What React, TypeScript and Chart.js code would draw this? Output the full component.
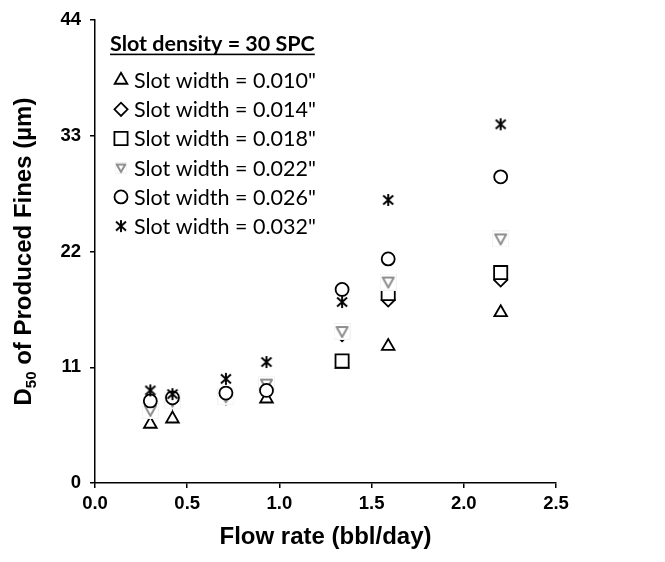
import React, { useEffect, useRef } from 'react';
import { Chart, registerables } from 'chart.js';
import { drawPoint } from 'chart.js/helpers';

Chart.register(...registerables);

const flowRates = [0.3, 0.42, 0.71, 0.93, 1.34, 1.59, 2.2];
const d50Width010 = [5.6, 6.1, 8.0, 8.0, 11.3, 13.0, 16.2];
const d50Width014 = [7.0, 7.7, 8.1, 9.2, 14.1, 17.4, 19.3];
const d50Width018 = [6.9, 7.8, 8.2, 9.3, 11.6, 18.0, 20.0];
const d50Width022 = [6.9, 7.8, 8.2, 9.4, 14.4, 19.1, 23.2];
const d50Width026 = [7.8, 8.1, 8.55, 8.8, 18.4, 21.3, 29.1];
const d50Width032 = [8.8, 8.45, 9.9, 11.5, 17.2, 26.9, 34.1];

const seriesLabels = [
  'Slot width = 0.010"',
  'Slot width = 0.014"',
  'Slot width = 0.018"',
  'Slot width = 0.022"',
  'Slot width = 0.026"',
  'Slot width = 0.032"',
];
const legendTitle = 'Slot density = 30 SPC';
const xTicks = [0, 0.5, 1.0, 1.5, 2.0, 2.5];
const yTicks = [0, 11, 22, 33, 44];
const xTitle = 'Flow rate (bbl/day)';
const yTitleMain = 'D';
const yTitleSub = '50';
const yTitleRest = ' of Produced Fines (µm)';

function makeAsterisk(): HTMLCanvasElement {
  const c = document.createElement('canvas');
  c.width = 14;
  c.height = 14;
  const g = c.getContext('2d')!;
  g.strokeStyle = '#000';
  g.lineWidth = 1.9;
  g.beginPath();
  g.moveTo(2, 2.5); g.lineTo(12, 11.5);
  g.moveTo(12, 2.5); g.lineTo(2, 11.5);
  g.moveTo(7, 1); g.lineTo(7, 13);
  g.stroke();
  return c;
}

function makeDownTriangle(size: number, pad: number): HTMLCanvasElement {
  const c = document.createElement('canvas');
  c.width = size;
  c.height = size;
  const g = c.getContext('2d')!;
  g.fillStyle = '#f2f2f2';
  g.fillRect(0, 0, size, size);
  g.fillStyle = '#fff';
  g.fillRect(1, 1, size - 2, size - 2);
  const m = pad;
  g.strokeStyle = '#8e8e8e';
  g.lineWidth = 2;
  g.lineJoin = 'round';
  g.beginPath();
  g.moveTo(m, m + 1);
  g.lineTo(size - m, m + 1);
  g.lineTo(size / 2, size - m);
  g.closePath();
  g.stroke();
  return c;
}

const yTitlePlugin = {
  id: 'yTitleSub',
  afterDraw(chart: any) {
    const ctx = chart.ctx;
    const area = chart.chartArea;
    ctx.save();
    const big = 'bold 24px "Liberation Sans", Arial, sans-serif';
    const small = 'bold 15px "Liberation Sans", Arial, sans-serif';
    ctx.font = big;
    const w1 = ctx.measureText(yTitleMain).width;
    const w3 = ctx.measureText(yTitleRest).width;
    ctx.font = small;
    const w2 = ctx.measureText(yTitleSub).width;
    const total = w1 + w2 + w3;
    ctx.translate(22, (area.top + area.bottom) / 2);
    ctx.rotate(-Math.PI / 2);
    ctx.fillStyle = '#000';
    ctx.textBaseline = 'alphabetic';
    ctx.textAlign = 'left';
    let x = -total / 2;
    const base = 9;
    ctx.font = big;
    ctx.fillText(yTitleMain, x, base);
    x += w1;
    ctx.font = small;
    ctx.fillText(yTitleSub, x, base + 5);
    x += w2;
    ctx.font = big;
    ctx.fillText(yTitleRest, x, base);
    ctx.restore();
  },
};

const legendPlugin = {
  id: 'insideLegend',
  afterDraw(chart: any) {
    const ctx = chart.ctx;
    const area = chart.chartArea;
    const left = area.left + 15;
    const top = area.top + 24;
    ctx.save();
    ctx.fillStyle = '#000';
    ctx.textAlign = 'left';
    ctx.textBaseline = 'middle';
    ctx.font = 'bold 21.5px Lato, "Open Sans", sans-serif';
    ctx.fillText(legendTitle, left, top);
    const tw = ctx.measureText(legendTitle).width;
    ctx.fillRect(left, top + 9.5, tw, 1.6);
    chart.data.datasets.forEach((ds: any, i: number) => {
      const y = top + 36 + i * 29.2;
      ctx.save();
      ctx.strokeStyle = ds.pointBorderColor;
      ctx.fillStyle = ds.pointBackgroundColor;
      ctx.lineWidth = ds.pointBorderWidth;
      drawPoint(
        ctx,
        {
          pointStyle: ds.legendStyle || ds.pointStyle,
          rotation: ds.pointRotation || 0,
          radius: ds.pointRadius,
          borderWidth: ds.pointBorderWidth,
        } as any,
        left + 11,
        y
      );
      ctx.restore();
      ctx.fillStyle = '#000';
      ctx.font = '21.5px Lato, "Open Sans", sans-serif';
      ctx.fillText(ds.label, left + 24, y + 1);
    });
    ctx.restore();
  },
};

export default function App() {
  const ref = useRef<HTMLCanvasElement | null>(null);
  useEffect(() => {
    if (!ref.current) return;
    const asterisk = makeAsterisk();
    const downTri = makeDownTriangle(17, 3);
    const downTriSmall = makeDownTriangle(12, 1.7);
    const toPts = (ys: number[]) => flowRates.map((x, i) => ({ x, y: ys[i] }));
    const base = {
      showLine: false,
      pointBackgroundColor: '#fff',
      pointBorderColor: '#000',
      pointBorderWidth: 1.8,
    };
    const tickFont = { family: '"Liberation Sans", Arial, sans-serif', size: 18.5, weight: 'bold' };
    const chart = new Chart(ref.current, {
      type: 'scatter',
      data: {
        datasets: [
          { ...base, order: 5, label: seriesLabels[0], data: toPts(d50Width010), pointStyle: 'triangle', pointRadius: 7.3 },
          { ...base, order: 4, label: seriesLabels[1], data: toPts(d50Width014), pointStyle: 'rectRot', pointRadius: 6.6 },
          { ...base, order: 3, label: seriesLabels[2], data: toPts(d50Width018), pointStyle: 'rect', pointRadius: 9.3 },
          { ...base, order: 2, label: seriesLabels[3], data: toPts(d50Width022), pointStyle: downTri as any, legendStyle: downTriSmall, pointRadius: 7.5, pointBorderColor: '#8e8e8e' },
          { ...base, order: 1, label: seriesLabels[4], data: toPts(d50Width026), pointStyle: 'circle', pointRadius: 6.5 },
          { ...base, order: 0, label: seriesLabels[5], data: toPts(d50Width032), pointStyle: asterisk as any, pointRadius: 7, pointBackgroundColor: 'rgba(0,0,0,0)' },
        ] as any,
      },
      options: {
        animation: false,
        responsive: false,
        layout: { padding: { left: 0, top: 17, right: 109, bottom: 0 } },
        plugins: { legend: { display: false }, tooltip: { enabled: false }, title: { display: false } },
        scales: {
          x: {
            type: 'linear',
            min: 0,
            max: 2.5,
            afterBuildTicks: (s: any) => { s.ticks = xTicks.map((v) => ({ value: v })); },
            afterFit: (s: any) => { s.height = 79; },
            border: { color: '#000', width: 1.5 },
            grid: { drawOnChartArea: false, drawTicks: true, tickLength: 5, color: '#000', lineWidth: 1.5 },
            ticks: {
              color: '#000',
              padding: 5,
              maxRotation: 0,
              font: tickFont,
              callback: (v: any) => Number(v).toFixed(1),
            },
            title: {
              display: true,
              text: xTitle,
              color: '#000',
              font: { family: '"Liberation Sans", Arial, sans-serif', size: 24, weight: 'bold' },
              padding: { top: 0, bottom: 10 },
            },
          },
          y: {
            type: 'linear',
            min: 0,
            max: 44,
            afterBuildTicks: (s: any) => { s.ticks = yTicks.map((v) => ({ value: v })); },
            afterFit: (s: any) => { s.width = 95; },
            border: { color: '#000', width: 1.5 },
            grid: { drawOnChartArea: false, drawTicks: true, tickLength: 5, color: '#000', lineWidth: 1.5 },
            ticks: {
              color: '#000',
              padding: 9,
              font: tickFont,
            },
          },
        },
      } as any,
      plugins: [yTitlePlugin, legendPlugin],
    });
    return () => chart.destroy();
  }, []);
  return (
    <div style={{ position: 'absolute', left: 0, top: 0, width: 665, height: 562, background: '#fff' }}>
      <canvas ref={ref} width={665} height={562} style={{ display: 'block' }} />
    </div>
  );
}
